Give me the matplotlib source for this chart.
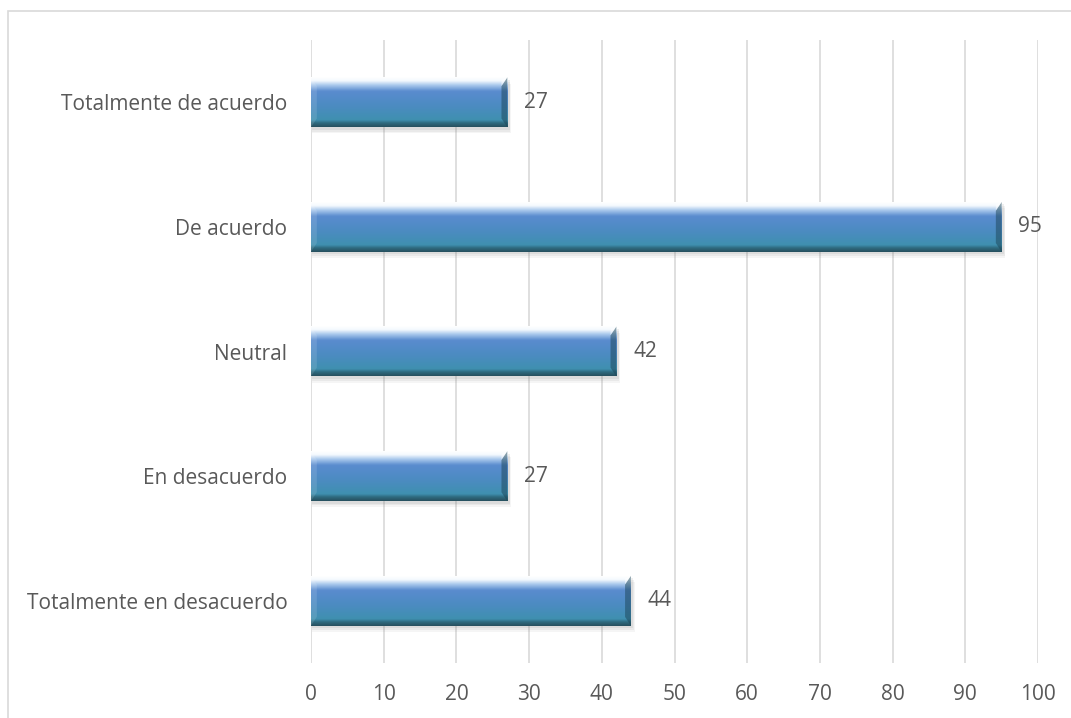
import matplotlib.pyplot as plt
import numpy as np
from matplotlib.patches import Polygon, Rectangle
from matplotlib.colors import LinearSegmentedColormap

# Respuestas (de abajo hacia arriba)
categorias = ['Totalmente en desacuerdo', 'En desacuerdo', 'Neutral', 'De acuerdo', 'Totalmente de acuerdo']
valores = [44, 27, 42, 95, 27]
xticks = np.arange(0, 101, 10)

gris_texto = '#595959'
gris_linea = '#d9d9d9'
plt.rcParams['font.family'] = ['Open Sans', 'DejaVu Sans']

fig = plt.figure(figsize=(10.71, 7.18), dpi=100)
ax = fig.add_axes([311/1071, 55/718, 727/1071, 623/718])

# marco exterior del grafico
fig.add_artist(Rectangle((8/1071, -0.1), 1.2, (718-11)/718 + 0.1, transform=fig.transFigure,
                         fill=False, edgecolor=gris_linea, linewidth=1.2))

# degradado vertical de la barra (arriba -> abajo)
cmap = LinearSegmentedColormap.from_list('barra', [
    (0.00, '#ffffff'), (0.07, '#f4f9fe'), (0.16, '#a9c8ec'), (0.28, '#5a8ccf'),
    (0.55, '#4d8bc3'), (0.86, '#3f90b0'), (0.92, '#2f6b80'), (1.00, '#27505f')])
grad = np.linspace(0, 1, 200).reshape(-1, 1)

h = 0.4
bx, by = 0.8, 0.07
y = np.arange(len(categorias))
for yi, v in zip(y, valores):
    top, bot = yi + h/2, yi - h/2
    # sombra
    for k, a in [(0.05, 0.08), (0.035, 0.10), (0.02, 0.12)]:
        ax.add_patch(Rectangle((0.2, bot - k), v + k*6, h, facecolor='#808080',
                               edgecolor='none', alpha=a, zorder=2))
    ax.imshow(grad, extent=[0, v, bot, top], aspect='auto', cmap=cmap,
              origin='upper', zorder=3, interpolation='bilinear')
    # biseles laterales
    ax.add_patch(Polygon([(v, top), (v - bx, top - by), (v - bx, bot + by), (v, bot)],
                         closed=True, facecolor='#1c4557', edgecolor='none', alpha=0.5, zorder=4))
    ax.add_patch(Polygon([(v, top), (v - bx, top - by), (v - bx, top - 0.02)],
                         closed=True, facecolor='#ffffff', edgecolor='none', alpha=0.5, zorder=4))
    ax.add_patch(Polygon([(0, top), (bx, top - by), (bx, bot + by), (0, bot)],
                         closed=True, facecolor='#ffffff', edgecolor='none', alpha=0.12, zorder=4))
    ax.text(v + 2.3, yi, str(v), va='center', ha='left', fontsize=15, color=gris_texto)

ax.set_xlim(0, 100)
ax.set_ylim(-0.5, len(categorias) - 0.5)
ax.set_xticks(xticks)
ax.set_yticks(y)
ax.set_yticklabels(categorias)
ax.tick_params(axis='both', length=0, labelsize=15, labelcolor=gris_texto)
ax.tick_params(axis='y', pad=17)
ax.tick_params(axis='x', pad=15)
ax.grid(axis='x', color=gris_linea, linewidth=1.2, zorder=0)
ax.set_axisbelow(True)
for s in ax.spines.values():
    s.set_visible(False)

fig.savefig('out.png', dpi=100)
